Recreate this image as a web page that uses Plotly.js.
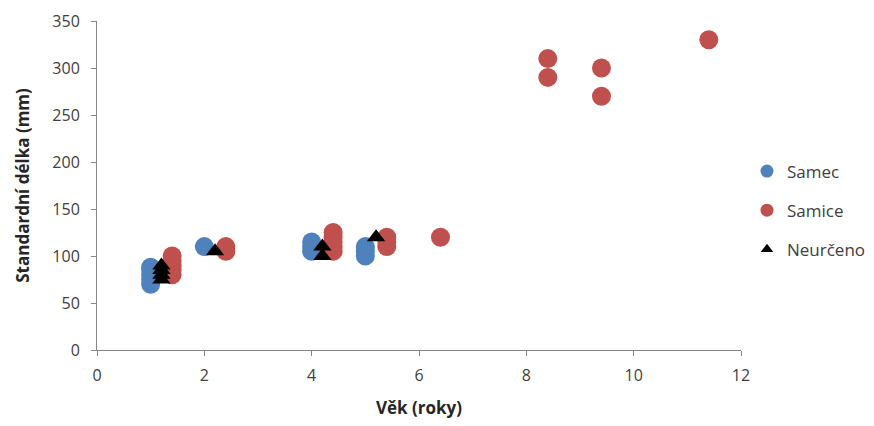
<!DOCTYPE html>
<html>
<head>
<meta charset="utf-8">
<script src="https://cdn.plot.ly/plotly-3.0.1.min.js"></script>
<style>
  html, body { margin: 0; padding: 0; background: #fff; }
  #chart { width: 874px; height: 426px; }
</style>
</head>
<body>
<div id="chart"></div>
<script>
// Věk (roky) a standardní délka (mm) podle pohlaví
const samecVek    = [1, 1, 1, 1, 1, 2, 4, 4, 4, 5, 5, 5];
const samecDelka  = [70, 75, 80, 85, 88, 110, 105, 110, 115, 100, 105, 110];

const samiceVek   = [1.4, 1.4, 1.4, 1.4, 1.4, 2.4, 2.4, 4.4, 4.4, 4.4, 4.4, 4.4, 5.4, 5.4, 5.4, 6.4, 8.4, 8.4, 9.4, 9.4, 11.4];
const samiceDelka = [80, 85, 90, 95, 100, 105, 110, 105, 110, 115, 120, 125, 110, 115, 120, 120, 290, 310, 270, 300, 330];

const neurcVek    = [1.2, 1.2, 1.2, 1.2, 2.2, 4.2, 4.2, 5.2];
const neurcDelka  = [75, 80, 85, 90, 105, 100, 110, 120];

const nazvy = ['Samec', 'Samice', 'Neurčeno'];
const barvy = ['#4F81BD', '#C0504D', '#000000'];

const font = '"Open Sans", Lato, sans-serif';

// Body grafu (bez legendy)
const data = [
  { x: samecVek, y: samecDelka, mode: 'markers', type: 'scatter', showlegend: false,
    marker: { color: barvy[0], size: 19, symbol: 'circle' } },
  { x: samiceVek, y: samiceDelka, mode: 'markers', type: 'scatter', showlegend: false,
    marker: { color: barvy[1], size: 19, symbol: 'circle' } },
  { x: neurcVek, y: neurcDelka, mode: 'markers', type: 'scatter', showlegend: false,
    marker: { color: barvy[2], size: 16, symbol: 'triangle-up' } }
];

// Položky legendy s menšími značkami
const symboly = ['circle', 'circle', 'triangle-up'];
const velikosti = [13, 13, 11];
nazvy.forEach((n, i) => {
  data.push({
    x: [null], y: [null], name: n, mode: 'markers', type: 'scatter',
    legendgroup: 'g' + i,
    marker: { color: barvy[i], size: velikosti[i], symbol: symboly[i] }
  });
});

const axisCommon = {
  showgrid: false, zeroline: false, showline: true,
  linecolor: '#868686', linewidth: 1,
  ticks: 'outside', ticklen: 5, tickcolor: '#868686',
  tickfont: { family: font, size: 16, color: '#404040' }
};

const titleFont = { family: font, size: 17, color: '#262626', weight: 'bold' };

const layout = {
  width: 874, height: 426,
  margin: { l: 97, r: 133, t: 21, b: 76, autoexpand: false },
  paper_bgcolor: '#fff', plot_bgcolor: '#fff',
  font: { family: font, color: '#404040' },
  xaxis: Object.assign({}, axisCommon, {
    range: [0, 12], dtick: 2, ticklabelstandoff: 6,
    title: { text: 'Věk (roky)', font: titleFont, standoff: 16 }
  }),
  yaxis: Object.assign({}, axisCommon, {
    range: [0, 350], dtick: 50, ticklabelstandoff: 8,
    title: { text: 'Standardní délka (mm)', font: titleFont, standoff: 18 }
  }),
  legend: {
    x: 1.0093, xanchor: 'left', xref: 'paper', y: 0.424, yanchor: 'middle',
    font: { family: font, size: 17, color: '#404040' },
    tracegroupgap: 14, itemwidth: 30
  }
};

Plotly.newPlot('chart', data, layout, { displayModeBar: false, staticPlot: true });
</script>
</body>
</html>
